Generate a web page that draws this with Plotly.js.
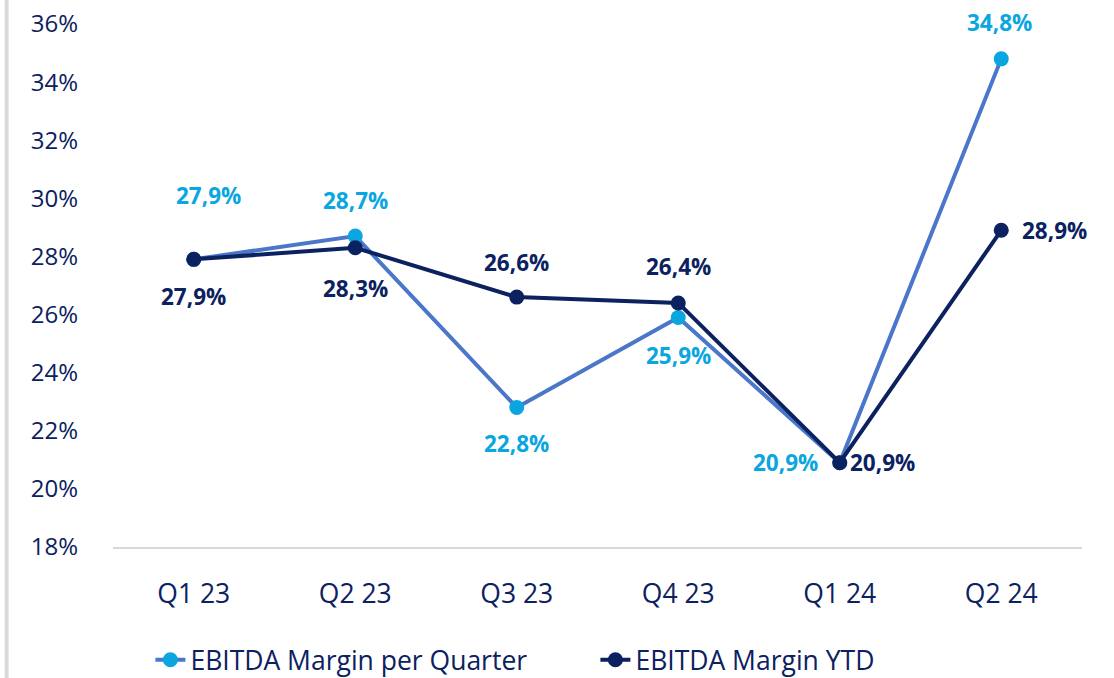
<!DOCTYPE html>
<html><head><meta charset="utf-8">
<script src="https://cdn.plot.ly/plotly-3.0.1.min.js"></script>
<style>html,body{margin:0;padding:0;background:#fff;}#chart{width:1114px;height:678px;}</style>
</head><body><div id="chart"></div>
<script>
const categories = ['Q1 23','Q2 23','Q3 23','Q4 23','Q1 24','Q2 24'];
const marginPerQuarter = [27.9, 28.7, 22.8, 25.9, 20.9, 34.8];
const marginYTD = [27.9, 28.3, 26.6, 26.4, 20.9, 28.9];
const yTickVals = [18,20,22,24,26,28,30,32,34,36];
const seriesNames = ['EBITDA Margin per Quarter','EBITDA Margin YTD'];

// label offsets (style only)
const qShift = [[15,64],[0,36],[0,-36],[0,-38],[-54,0],[-2,36]];
const yShift = [[0,-37],[0,-41],[0,35],[0,36],[43,0],[53,0]];

const navy = '#0b2160';
const lineBlue = '#4a77c9';
const cyan = '#0aa6df';
const fmt = v => v.toFixed(1).replace('.', ',') + '%';

const traces = [
  {x: categories, y: marginPerQuarter, name: seriesNames[0], type:'scatter', mode:'lines+markers',
   line:{color: lineBlue, width:4}, marker:{color: cyan, size:15}},
  {x: categories, y: marginYTD, name: seriesNames[1], type:'scatter', mode:'lines+markers',
   line:{color: navy, width:4}, marker:{color: navy, size:15}}
];

const annotations = [];
categories.forEach((c,i)=>{
  annotations.push({x:c, y:marginPerQuarter[i], xref:'x', yref:'y', text:fmt(marginPerQuarter[i]), showarrow:false,
    xshift:qShift[i][0], yshift:qShift[i][1], font:{family:'Open Sans', size:22.5, color:cyan, weight:700}});
  annotations.push({x:c, y:marginYTD[i], xref:'x', yref:'y', text:fmt(marginYTD[i]), showarrow:false,
    xshift:yShift[i][0], yshift:yShift[i][1], font:{family:'Open Sans', size:22.5, color:navy, weight:700}});
});

const layout = {
  width:1114, height:678,
  margin:{l:113, r:32, t:24, b:131, autoexpand:false},
  paper_bgcolor:'#fff', plot_bgcolor:'#fff',
  font:{family:'Open Sans', color:navy, size:23},
  showlegend:true,
  legend:{orientation:'h', x:0.0386, xanchor:'left', y:-0.216, yanchor:'middle', entrywidth:400, entrywidthmode:'pixels',
    font:{family:'Open Sans', size:26.5, color:navy}},
  xaxis:{type:'category', showgrid:false, zeroline:false, showline:true, linecolor:'#d9d9d9', linewidth:2,
    ticks:'', ticklabelstandoff:22, tickfont:{size:26.5, color:navy}, range:[-0.5,5.5], fixedrange:true},
  yaxis:{range:[18,36], tickvals:yTickVals, ticktext:yTickVals.map(v=>v+'%'), showgrid:false, zeroline:false,
    showline:false, ticks:'', ticklabelstandoff:34, tickfont:{size:24, color:navy}, fixedrange:true},
  annotations: annotations,
  shapes:[{type:'line', xref:'paper', yref:'paper', x0:-0.1098, x1:-0.1098, y0:-0.3, y1:1.1,
    line:{color:'#d9d9d9', width:4}}]
};
Plotly.newPlot('chart', traces, layout, {displayModeBar:false, staticPlot:true});
</script></body></html>
